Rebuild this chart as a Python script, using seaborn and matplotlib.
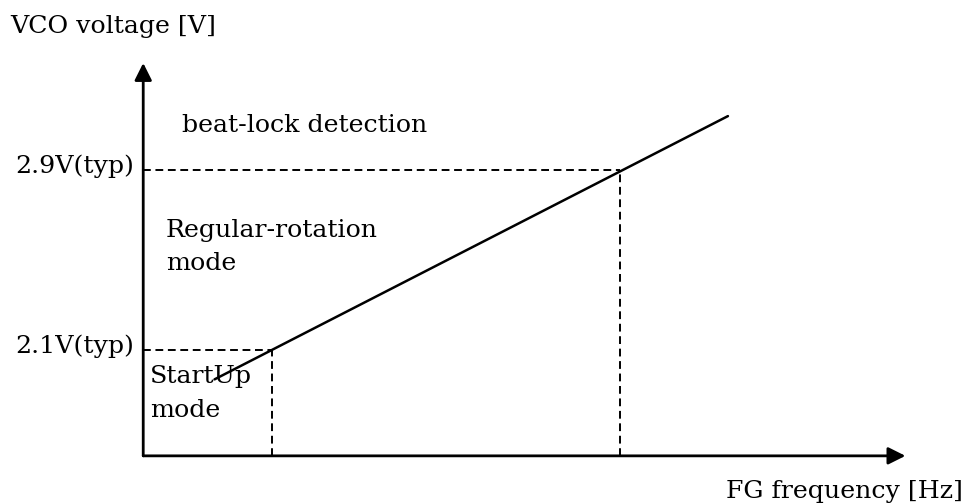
import matplotlib
matplotlib.use("Agg")
import matplotlib.pyplot as plt
import pandas as pd
import seaborn as sns

# VCO voltage vs FG frequency (arbitrary frequency units)
freq_typ = [1.0, 3.0]  # FG frequency where the mode changes
volt_typ = [2.1, 2.9]  # typical VCO thresholds [V]
typ_labels = ["2.1V(typ)", "2.9V(typ)"]
vco_freq = [0.67, 3.62]
vco_volt = [1.97, 3.14]

origin = (0.26, 1.63)
x_tip = 4.64
y_tip = 3.376

sns.set_theme(style="white")
plt.rcParams["font.family"] = ["DejaVu Serif"]
plt.rcParams["text.color"] = "black"
fs = 18.2

fig = plt.figure(figsize=(9.7, 5.04), dpi=100)
ax = fig.add_axes([0, 0, 1, 1])
ax.set_xlim(-0.563, 5.011)
ax.set_ylim(1.416, 3.656)
ax.axis("off")

# axes with arrows
arrow = dict(arrowstyle="-|>", lw=2, color="black", mutation_scale=26,
             shrinkA=0, shrinkB=0)
ax.annotate("", xy=(x_tip, origin[1]), xytext=origin, arrowprops=arrow)
ax.annotate("", xy=(origin[0], y_tip), xytext=origin, arrowprops=arrow)

# dashed guides for the typical thresholds
dash = (0, (4, 2.4))
for f, v, lab in zip(freq_typ, volt_typ, typ_labels):
    ax.plot([origin[0], f], [v, v], color="black", lw=1.4, linestyle=dash)
    ax.plot([f, f], [origin[1], v], color="black", lw=1.4, linestyle=dash)
    ax.text(origin[0] - 0.055, v - 0.012, lab, ha="right", va="baseline",
            fontsize=fs)

# VCO characteristic
df = pd.DataFrame({"freq": vco_freq, "volt": vco_volt})
sns.lineplot(data=df, x="freq", y="volt", ax=ax, color="black", lw=1.8)

ax.text(-0.506, 3.509, "VCO voltage [V]", ha="left", va="baseline", fontsize=fs)
ax.text(4.971, 1.442, "FG frequency [Hz]", ha="right", va="baseline", fontsize=fs)
ax.text(0.483, 3.069, "beat-lock detection", ha="left", va="baseline", fontsize=fs)
ax.text(0.391, 2.602, "Regular-rotation", ha="left", va="baseline", fontsize=fs)
ax.text(0.391, 2.456, "mode", ha="left", va="baseline", fontsize=fs)
ax.text(0.299, 1.953, "StartUp", ha="left", va="baseline", fontsize=fs)
ax.text(0.299, 1.802, "mode", ha="left", va="baseline", fontsize=fs)

fig.savefig("out.png", dpi=100)
